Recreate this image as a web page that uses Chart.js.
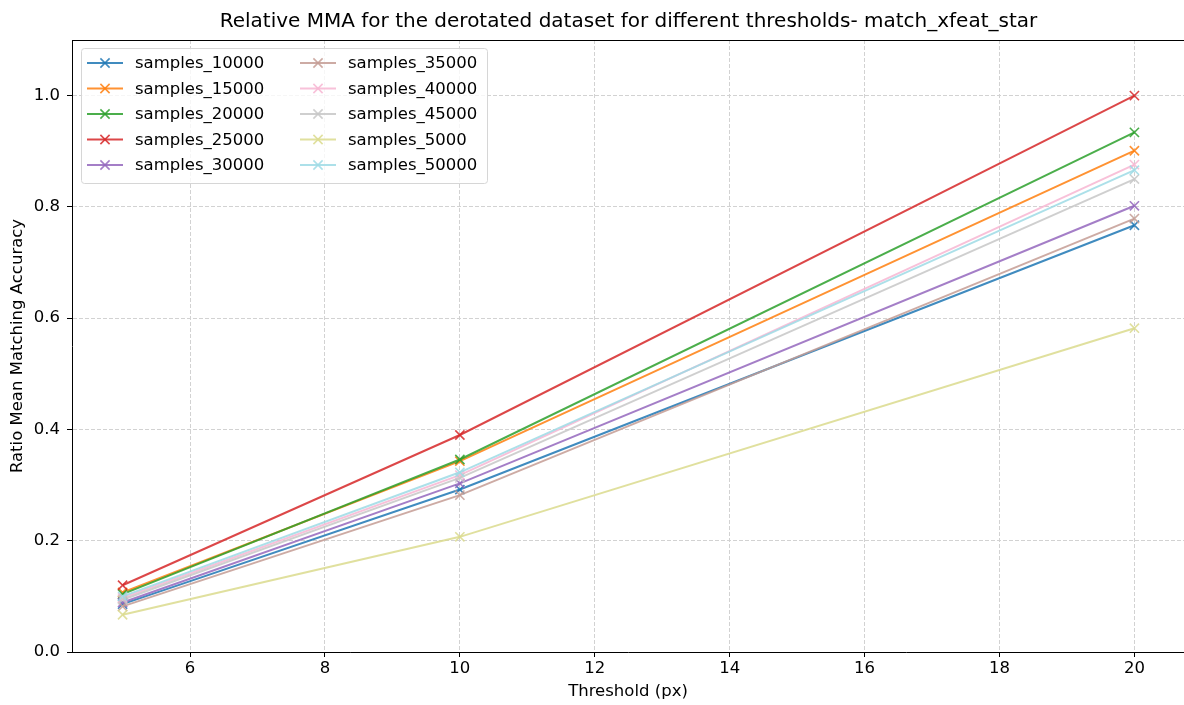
<!DOCTYPE html>
<html>
<head>
<meta charset="utf-8">
<script src="https://cdn.jsdelivr.net/npm/chart.js@4"></script>
<style>
  html, body { margin: 0; padding: 0; background: #fff; }
  #wrap { width: 1184px; height: 705px; }
</style>
</head>
<body>
<div id="wrap"><canvas id="myChart" width="1184" height="705"></canvas></div>
<script>
// data
var thresholds = [5, 10, 20];
var samples_10000 = [0.086, 0.292, 0.767];
var samples_15000 = [0.107, 0.343, 0.901];
var samples_20000 = [0.104, 0.346, 0.934];
var samples_25000 = [0.120, 0.390, 1.000];
var samples_30000 = [0.089, 0.303, 0.802];
var samples_35000 = [0.082, 0.282, 0.779];
var samples_40000 = [0.097, 0.318, 0.876];
var samples_45000 = [0.094, 0.313, 0.850];
var samples_5000 = [0.067, 0.207, 0.582];
var samples_50000 = [0.100, 0.323, 0.866];

var seriesNames = ['samples_10000', 'samples_15000', 'samples_20000', 'samples_25000', 'samples_30000',
                   'samples_35000', 'samples_40000', 'samples_45000', 'samples_5000', 'samples_50000'];
var seriesValues = [samples_10000, samples_15000, samples_20000, samples_25000, samples_30000,
                    samples_35000, samples_40000, samples_45000, samples_5000, samples_50000];
var seriesColors = ['#1f77b4', '#ff7f0e', '#2ca02c', '#d62728', '#9467bd',
                    '#c49c94', '#f7b6d2', '#c7c7c7', '#dbdb8d', '#9edae5'];

var xTicks = [6, 8, 10, 12, 14, 16, 18, 20];
var yTicks = [0.0, 0.2, 0.4, 0.6, 0.8, 1.0];

var titleText = 'Relative MMA for the derotated dataset for different thresholds- match_xfeat_star';
var FONT = '"DejaVu Sans", sans-serif';
var FS = 16.5;

function hexA(hex, a) {
  var r = parseInt(hex.substr(1, 2), 16), g = parseInt(hex.substr(3, 2), 16), b = parseInt(hex.substr(5, 2), 16);
  return 'rgba(' + r + ',' + g + ',' + b + ',' + a + ')';
}

var datasets = seriesNames.map(function (name, i) {
  return {
    label: name,
    data: thresholds.map(function (t, j) { return { x: t, y: seriesValues[i][j] }; }),
    borderColor: hexA(seriesColors[i], 0.85),
    backgroundColor: hexA(seriesColors[i], 0.85),
    borderWidth: 2,
    pointStyle: 'crossRot',
    pointRadius: 6.5,
    pointBorderWidth: 1.6,
    pointHoverRadius: 6.5,
    tension: 0,
    clip: false,
    order: -i
  };
});

// title, top spine and matplotlib style legend
var decor = {
  id: 'decor',
  afterDraw: function (chart) {
    var ctx = chart.ctx, a = chart.chartArea;
    ctx.save();
    ctx.strokeStyle = '#000';
    ctx.lineWidth = 1;
    ctx.beginPath();
    ctx.moveTo(a.left, a.top + 0.5);
    ctx.lineTo(a.right, a.top + 0.5);
    ctx.stroke();

    ctx.fillStyle = '#000';
    ctx.font = '20px ' + FONT;
    ctx.textAlign = 'center';
    ctx.textBaseline = 'middle';
    ctx.fillText(titleText, (a.left + 1185) / 2, 22);

    // legend box
    var bx = 81, by = 48, bw = 406, bh = 135;
    ctx.fillStyle = 'rgba(255,255,255,0.8)';
    ctx.strokeStyle = '#d6d6d6';
    ctx.lineWidth = 1;
    ctx.beginPath();
    ctx.roundRect(bx + 0.5, by + 0.5, bw, bh, 3);
    ctx.fill();
    ctx.stroke();

    ctx.font = FS + 'px ' + FONT;
    ctx.textAlign = 'left';
    ctx.textBaseline = 'middle';
    for (var i = 0; i < seriesNames.length; i++) {
      var col = Math.floor(i / 5), row = i % 5;
      var lx = col === 0 ? 87 : 300;
      var ly = 63 + row * 25.5;
      var c = hexA(seriesColors[i], 0.85);
      ctx.strokeStyle = c;
      ctx.lineWidth = 2;
      ctx.beginPath();
      ctx.moveTo(lx, ly);
      ctx.lineTo(lx + 36, ly);
      ctx.stroke();
      var mx = lx + 18, d = 4.6;
      ctx.lineWidth = 1.6;
      ctx.beginPath();
      ctx.moveTo(mx - d, ly - d); ctx.lineTo(mx + d, ly + d);
      ctx.moveTo(mx - d, ly + d); ctx.lineTo(mx + d, ly - d);
      ctx.stroke();
      ctx.fillStyle = '#000';
      ctx.fillText(seriesNames[i], lx + 48, ly + 1);
    }
    ctx.restore();
  }
};

var ctx = document.getElementById('myChart').getContext('2d');
var chart = new Chart(ctx, {
  type: 'line',
  data: { datasets: datasets },
  options: {
    responsive: false,
    animation: false,
    layout: { autoPadding: false, padding: { top: 40, left: 0, right: 0, bottom: 0 } },
    plugins: {
      legend: { display: false },
      title: { display: false },
      tooltip: { enabled: false }
    },
    scales: {
      x: {
        type: 'linear',
        min: 4.25,
        max: 20.735,
        afterBuildTicks: function (scale) {
          scale.ticks = xTicks.map(function (v) { return { value: v }; });
        },
        afterFit: function (scale) {
          scale.height = 53;
          scale.paddingLeft = 0;
          scale.paddingRight = 0;
        },
        ticks: {
          color: '#000',
          font: { family: FONT, size: FS },
          padding: 2,
          maxRotation: 0,
          callback: function (v) { return String(v); }
        },
        grid: {
          color: '#d2d2d2',
          lineWidth: 1,
          drawTicks: true,
          tickLength: 5,
          tickColor: '#000',
          tickWidth: 1,
          tickBorderDash: []
        },
        border: { display: true, color: '#000', width: 1, dash: [4, 2] },
        title: {
          display: true,
          text: 'Threshold (px)',
          color: '#000',
          font: { family: FONT, size: FS },
          padding: { top: 0, bottom: 3 }
        }
      },
      y: {
        type: 'linear',
        min: 0,
        max: 1.1,
        afterBuildTicks: function (scale) {
          scale.ticks = yTicks.map(function (v) { return { value: v }; });
        },
        afterFit: function (scale) {
          scale.width = 72;
          scale.paddingTop = 0;
          scale.paddingBottom = 0;
        },
        ticks: {
          color: '#000',
          font: { family: FONT, size: FS },
          padding: 7,
          callback: function (v) { return Number(v).toFixed(1); }
        },
        grid: {
          color: '#d2d2d2',
          lineWidth: 1,
          drawTicks: true,
          tickLength: 5,
          tickColor: '#000',
          tickWidth: 1,
          tickBorderDash: []
        },
        border: { display: true, color: '#000', width: 1, dash: [4, 2] },
        title: {
          display: true,
          text: 'Ratio Mean Matching Accuracy',
          color: '#000',
          font: { family: FONT, size: FS },
          padding: { top: 8, bottom: 0 }
        }
      }
    }
  },
  plugins: [decor]
});
</script>
</body>
</html>
